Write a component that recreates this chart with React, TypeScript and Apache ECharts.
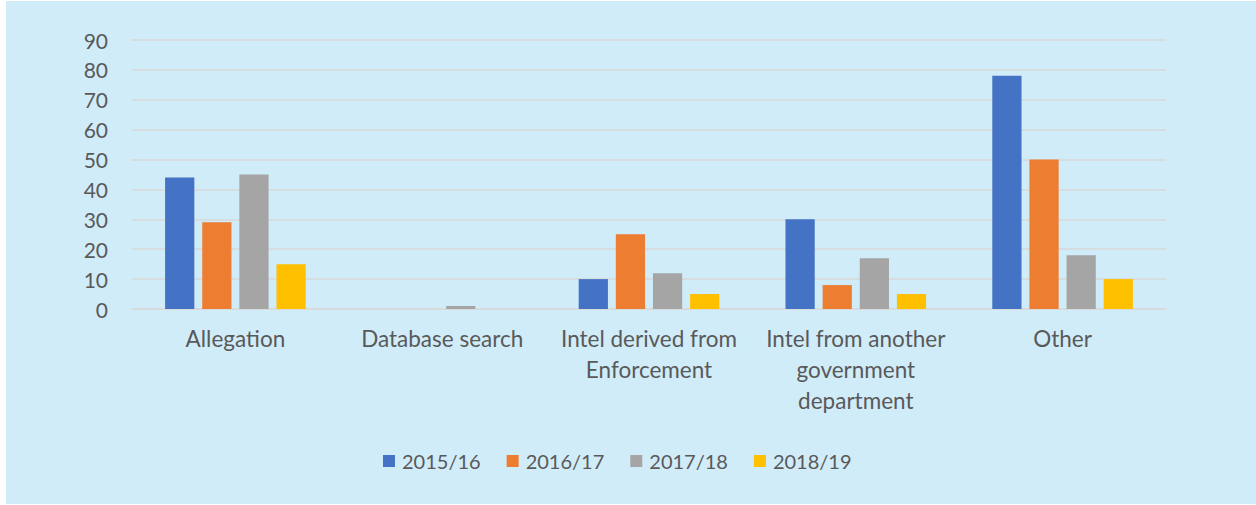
import React, { useEffect, useRef } from "react";
import * as echarts from "echarts";

const categories = [
  "Allegation",
  "Database search",
  "Intel derived from\nEnforcement",
  "Intel from another\ngovernment\ndepartment",
  "Other",
];
const seriesNames = ["2015/16", "2016/17", "2017/18", "2018/19"];
const values2015 = [44, 0, 10, 30, 78];
const values2016 = [29, 0, 25, 8, 50];
const values2017 = [45, 1, 12, 17, 18];
const values2018 = [15, 0, 5, 5, 10];
const colors = ["#4472c4", "#ed7d31", "#a5a5a5", "#ffc000"];
const yTicks = { min: 0, max: 90, interval: 10 };

export default function App() {
  const ref = useRef<HTMLDivElement>(null);
  useEffect(() => {
    if (!ref.current) return;
    const chart = echarts.init(ref.current, null, { renderer: "svg" });
    const font = "Lato, 'Open Sans', sans-serif";
    const data = [values2015, values2016, values2017, values2018];
    chart.setOption({
      animation: false,
      backgroundColor: "#d0ecf9",
      textStyle: { fontFamily: font },
      grid: { left: 126, right: 90, top: 39, bottom: 195, containLabel: false },
      legend: {
        data: seriesNames,
        top: 445,
        left: 372,
        itemWidth: 12,
        itemHeight: 12,
        itemGap: 26,
        icon: "rect",
        textStyle: { color: "#595959", fontSize: 20, fontFamily: font, padding: [0, 0, 0, 2] },
      },
      xAxis: {
        type: "category",
        data: categories,
        axisLine: { lineStyle: { color: "#d9d9d9", width: 1.5 } },
        axisTick: { show: false },
        axisLabel: {
          color: "#595959",
          fontSize: 22.5,
          fontFamily: font,
          lineHeight: 31,
          margin: 14,
          interval: 0,
        },
      },
      yAxis: {
        type: "value",
        min: yTicks.min,
        max: yTicks.max,
        interval: yTicks.interval,
        axisLine: { show: false },
        axisTick: { show: false },
        splitLine: { lineStyle: { color: "#d9d9d9", width: 1.5 } },
        axisLabel: { color: "#595959", fontSize: 21, fontFamily: font, margin: 24 },
      },
      series: seriesNames.map((name, i) => ({
        name,
        type: "bar",
        data: data[i],
        barGap: "27%",
        barCategoryGap: "32%",
        itemStyle: { color: colors[i] },
      })),
    });
    return () => chart.dispose();
  }, []);
  return (
    <div style={{ position: "fixed", left: 0, top: 0, width: 1256, height: 505, background: "#ffffff" }}>
      <div ref={ref} style={{ position: "absolute", left: 6, top: 1, width: 1250, height: 503 }} />
    </div>
  );
}
